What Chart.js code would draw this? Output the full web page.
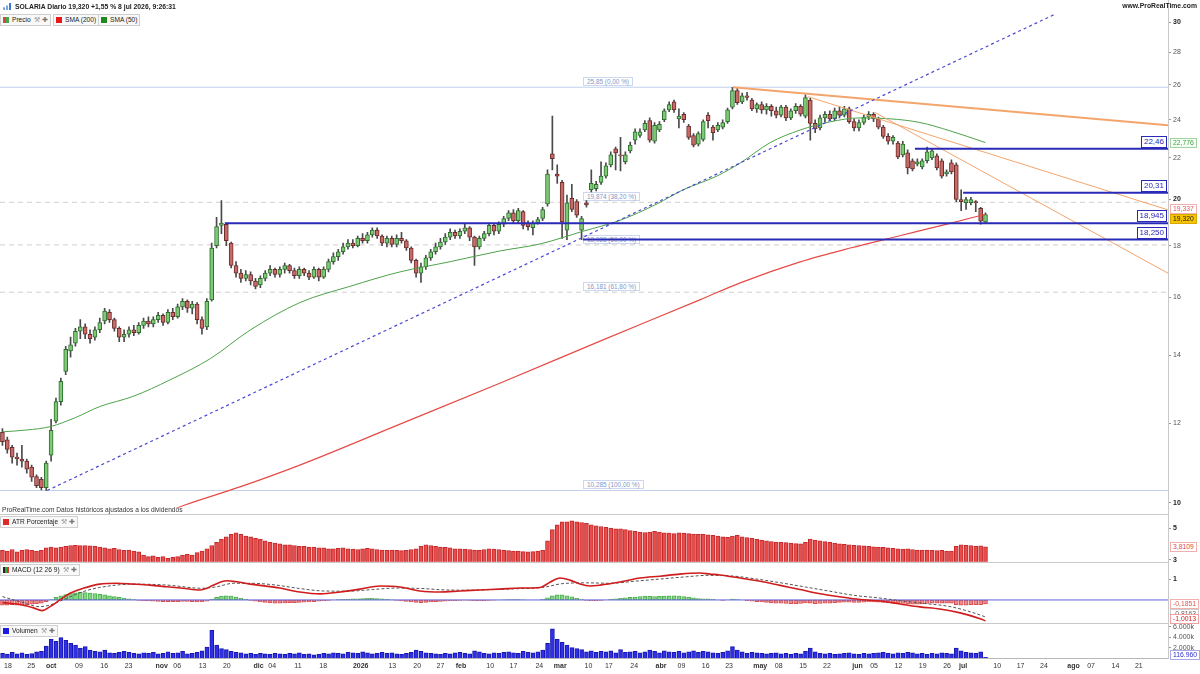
<!DOCTYPE html>
<html lang="es">
<head>
<meta charset="utf-8">
<title>SOLARIA Diario</title>
<script src="https://cdn.jsdelivr.net/npm/chart.js@4.4.1/dist/chart.umd.min.js"></script>
<style>
html,body{margin:0;padding:0;background:#fff;}
#wrap{position:relative;width:1200px;height:674px;overflow:hidden;font-family:"Liberation Sans",Arial,Helvetica,sans-serif;color:#222;background:#fff;}
#wrap canvas{position:absolute;left:0;z-index:1;}
.t{position:absolute;white-space:nowrap;line-height:1;z-index:2;}
.hdr{font-size:6.8px;font-weight:bold;color:#222;}
.box{position:absolute;z-index:2;white-space:nowrap;font-size:6.6px;line-height:8px;height:8px;border:1px solid #cfcfcf;background:#f8f8f8;padding:1px 2px;color:#222;}
.sq{display:inline-block;width:6px;height:6px;vertical-align:-1px;margin-right:3px;}
.ico{color:#9a9a9a;margin-left:3px;font-size:6.5px;}
.sep{position:absolute;z-index:2;left:0;width:1168px;height:1px;background:#c9c9c9;}
.vline{position:absolute;z-index:2;top:0;left:1168px;width:1px;height:658px;background:#c9c9c9;}
.lvl{position:absolute;z-index:2;white-space:nowrap;font-size:8px;line-height:10px;padding:0 2px;border:1px solid #2a2ab8;color:#2a2ab8;background:#fff;}
.fib{position:absolute;z-index:0;white-space:nowrap;font-size:6.4px;line-height:7px;padding:0 3px;border:1px solid #cdd8ee;color:#8596c4;background:#fff;}
.ax{position:absolute;z-index:2;white-space:nowrap;font-size:6.8px;line-height:8px;padding:0 2px;border:1px solid #ccc;background:#fff;}
</style>
</head>
<body>
<div id="wrap">
  <canvas id="cPrice" width="1200" height="514" style="top:0px"></canvas>
  <canvas id="cAtr" width="1200" height="59" style="top:509px"></canvas>
  <canvas id="cMacd" width="1200" height="72" style="top:557px"></canvas>
  <canvas id="cVol" width="1200" height="55" style="top:619px"></canvas>
  <div class="vline"></div>
  <div class="sep" style="top:514px"></div>
  <div class="sep" style="top:562px"></div>
  <div class="sep" style="top:623px"></div>

  <div class="t hdr" style="left:3px;top:3px;"><span style="display:inline-block;width:9px;height:7px;vertical-align:-1px;margin-right:3px;background:linear-gradient(90deg,#7aa7e0 0 2px,transparent 2px 3px,#7aa7e0 3px 5px,transparent 5px 6px,#3b78d0 6px 8px,transparent 8px);clip-path:polygon(0 60%,33% 60%,33% 35%,66% 35%,66% 0,100% 0,100% 100%,0 100%);"></span>SOLARIA Diario 19,320 +1,55 % 8 jul 2026, 9:26:31</div>
  <div class="t hdr" style="right:3px;top:3px;">www.ProRealTime.com</div>

  <div class="box" style="left:0px;top:14px;"><span class="sq" style="background:linear-gradient(90deg,#d04848 50%,#48a848 50%);"></span>Precio<span class="ico">⚒</span><span class="ico" style="margin-left:2px;color:#777;">✚</span></div>
  <div class="box" style="left:53px;top:14px;"><span class="sq" style="background:#e81818;"></span>SMA (200)</div>
  <div class="box" style="left:98px;top:14px;"><span class="sq" style="background:#1f8a1f;"></span>SMA (50)</div>

  <div class="t" style="left:2px;top:507px;font-size:6.6px;color:#333;">ProRealTime.com Datos históricos ajustados a los dividendos</div>
  <div class="box" style="left:0px;top:516px;"><span class="sq" style="background:#e02828;"></span>ATR Porcentaje<span class="ico">⚒</span><span class="ico" style="margin-left:2px;color:#777;">✚</span></div>
  <div class="box" style="left:0px;top:564px;"><span class="sq" style="background:linear-gradient(90deg,#222 33%,#3a3 33% 66%,#d33 66%);"></span>MACD (12 26 9)<span class="ico">⚒</span><span class="ico" style="margin-left:2px;color:#777;">✚</span></div>
  <div class="box" style="left:0px;top:625px;"><span class="sq" style="background:#1c1ce0;"></span>Volumen<span class="ico">⚒</span><span class="ico" style="margin-left:2px;color:#777;">✚</span></div>
</div>

<script>
// ---------------- DATA ----------------
const N_SLOTS = 240; // trading-day slots on the time axis (data + future space)

// x-axis tick labels (slot position, text)
const xTickPos = [1.1,5.9,10.0,15.7,20.9,25.9,32.7,35.9,41.1,46.1,52.6,55.4,60.7,65.9,73.6,80.1,85.2,90.0,94.2,100.2,105.0,110.3,114.6,120.4,124.6,129.8,135.3,139.5,144.5,149.3,155.7,159.5,164.5,169.4,175.7,179.1,184.1,189.1,194.1,197.4,204.4,209.2,214.0,220.1,223.7,228.7,233.5];
const xTickText = ['18','25','oct','09','16','23','nov','06','13','20','dic','04','11','18','2026','13','20','27','feb','10','17','24','mar','10','17','24','abr','09','16','23','may','08','15','22','jun','05','12','19','26','jul','10','17','24','ago','07','14','21'];

const priceTicks = [10,12,14,16,18,20,22,24,26,28,30];
const atrTicks = [3,5];
const macdTicks = [1];
const volTicks = [2000,4000,6000];

// daily candles (one per trading day, slot 0..202)
const opens = [
11.75,11.55,11.35,11.10,11.05,11.00,10.85,10.62,10.55,10.35,
11.15,12.05,12.60,13.50,14.15,14.40,14.80,14.95,14.70,14.60,
14.85,15.15,15.45,15.20,14.90,14.60,14.70,14.85,14.75,15.00,
15.15,15.05,15.20,15.35,15.10,15.45,15.30,15.65,15.85,15.60,
15.75,15.20,14.95,15.90,18.00,18.85,18.90,18.10,17.20,16.90,
16.70,16.85,16.60,16.45,16.70,16.90,17.05,16.85,17.05,17.20,
17.00,16.80,17.05,16.90,16.75,17.05,16.75,17.05,17.35,17.55,
17.75,17.95,18.10,18.00,18.30,18.20,18.45,18.65,18.40,18.10,
18.30,18.05,18.30,18.20,17.90,17.40,16.90,17.15,17.50,17.75,
17.95,18.15,18.35,18.55,18.40,18.60,18.75,18.35,17.95,18.30,
18.50,18.85,18.60,18.90,19.15,19.40,19.05,19.45,18.95,18.75,
18.95,19.15,19.80,22.20,21.20,20.80,18.65,20.05,19.90,18.65,
19.85,20.45,20.50,20.80,21.10,21.65,22.45,22.15,21.80,22.35,
22.90,23.15,23.45,23.95,22.85,23.45,24.00,24.55,25.00,24.05,
24.30,23.65,23.15,22.70,22.95,24.25,23.60,23.45,23.60,23.90,
24.70,25.65,25.00,25.35,25.10,24.60,24.85,24.55,24.75,24.50,
24.25,24.70,24.10,24.50,24.75,24.20,25.10,23.80,23.55,24.10,
24.30,24.05,24.50,24.25,24.60,23.90,23.55,23.85,24.15,24.30,
24.05,23.60,23.10,22.85,22.75,22.15,22.25,21.85,21.70,21.55,
21.85,22.00,22.10,21.85,21.20,21.75,21.65,20.00,19.85,19.85,
19.90,19.60,19.00];
const highs = [
11.85,11.62,11.40,11.20,11.40,11.05,10.90,10.66,10.60,11.00,
12.10,12.70,13.30,14.30,14.60,14.90,15.20,15.05,14.85,14.95,
15.25,15.60,15.55,15.25,14.95,14.85,14.95,15.00,15.10,15.25,
15.30,15.30,15.45,15.40,15.55,15.60,15.75,15.95,15.90,15.85,
15.80,15.30,15.95,18.10,19.20,19.95,18.95,18.15,17.35,17.05,
17.00,16.95,16.70,16.80,17.00,17.20,17.10,17.15,17.30,17.25,
17.10,17.15,17.10,17.00,17.15,17.10,17.15,17.45,17.70,17.85,
18.10,18.25,18.25,18.40,18.50,18.55,18.75,18.75,18.45,18.40,
18.40,18.45,18.55,18.25,17.95,17.45,17.30,17.60,17.85,18.10,
18.30,18.50,18.70,18.65,18.70,18.90,18.80,18.40,18.40,18.60,
18.95,18.90,19.00,19.25,19.50,19.55,19.60,19.50,19.05,19.05,
19.20,19.65,21.40,24.20,21.65,20.90,20.20,20.70,20.00,19.25,
19.95,21.40,20.85,21.80,21.75,22.30,22.55,23.05,22.30,22.80,
23.50,23.50,23.95,24.10,23.85,23.90,24.60,25.00,25.10,24.60,
24.40,23.75,23.25,23.35,24.00,24.40,23.70,23.85,24.00,24.65,
25.85,25.80,25.50,25.55,25.20,24.95,25.00,24.90,24.85,24.70,
24.80,24.80,24.60,24.90,24.85,25.40,25.20,24.00,24.25,24.45,
24.50,24.65,24.70,24.75,24.70,24.05,24.00,24.25,24.45,24.40,
24.15,23.70,23.25,23.15,22.85,22.85,22.40,21.95,21.95,21.95,
22.55,22.45,22.20,21.95,21.40,21.90,21.75,20.45,20.10,20.10,
19.95,19.65,19.40];
const lows = [
11.40,11.20,10.95,10.90,10.85,10.70,10.50,10.35,10.30,10.285,
11.00,12.00,12.50,13.40,13.95,14.30,14.55,14.55,14.40,14.50,
14.75,15.05,15.10,14.80,14.45,14.45,14.60,14.65,14.70,14.90,
14.95,14.95,15.10,15.00,15.05,15.20,15.25,15.55,15.45,15.40,
15.05,14.70,14.85,15.85,17.90,18.50,18.00,17.10,16.75,16.55,
16.60,16.45,16.30,16.35,16.60,16.80,16.75,16.75,16.90,16.90,
16.70,16.70,16.80,16.65,16.70,16.60,16.70,16.95,17.25,17.40,
17.65,17.85,17.90,17.95,18.10,18.10,18.35,18.30,18.00,17.95,
17.95,17.95,18.10,17.80,17.30,16.75,16.55,17.05,17.40,17.65,
17.85,18.05,18.25,18.30,18.30,18.50,18.20,17.20,17.85,18.20,
18.40,18.45,18.50,18.80,19.05,18.95,18.95,18.70,18.65,18.45,
18.90,19.05,19.70,21.40,20.75,18.30,18.25,19.45,19.20,18.25,
19.65,20.35,20.40,20.70,21.00,21.55,21.40,21.35,21.70,22.25,
22.70,23.05,23.35,22.80,22.75,23.35,23.90,24.45,24.40,23.55,
23.85,22.95,22.55,22.60,22.85,23.55,22.90,23.35,23.50,23.80,
24.60,24.85,24.90,25.10,24.50,24.40,24.35,24.30,24.20,24.10,
24.15,23.95,24.00,24.35,24.20,24.10,22.90,23.30,23.45,23.90,
23.95,23.95,24.10,24.15,23.80,23.40,23.40,23.75,24.00,23.90,
23.50,23.00,22.70,22.70,21.95,22.05,21.20,21.35,21.60,21.45,
21.75,21.90,21.40,21.00,21.10,21.20,19.90,19.50,19.55,19.75,
19.45,18.90,18.94];
const closes = [
11.50,11.30,11.10,11.06,11.00,10.80,10.60,10.40,10.35,10.95,
11.80,12.60,13.20,14.20,14.35,14.80,14.95,14.70,14.55,14.85,
15.10,15.50,15.20,14.90,14.60,14.70,14.85,14.75,15.00,15.15,
15.05,15.20,15.35,15.10,15.45,15.30,15.65,15.85,15.60,15.75,
15.20,14.90,15.85,17.90,18.80,18.95,18.20,17.20,16.90,16.70,
16.85,16.60,16.40,16.70,16.90,17.05,16.85,17.05,17.20,17.00,
16.80,17.05,16.90,16.75,17.05,16.75,17.05,17.35,17.55,17.75,
17.95,18.10,18.00,18.30,18.20,18.45,18.65,18.40,18.10,18.30,
18.05,18.30,18.20,17.90,17.40,16.90,17.15,17.50,17.75,17.95,
18.15,18.35,18.55,18.40,18.60,18.75,18.35,17.95,18.30,18.50,
18.85,18.60,18.90,19.15,19.40,19.05,19.50,18.85,18.80,18.95,
19.10,19.55,21.20,21.95,21.10,19.00,19.85,19.55,19.30,19.15,
19.75,20.75,20.70,21.10,21.60,22.15,22.25,22.10,22.15,22.65,
23.35,23.35,23.80,22.90,23.70,23.75,24.50,24.85,24.55,24.20,
24.00,23.05,22.65,23.25,23.90,23.95,23.30,23.70,23.85,24.55,
25.65,24.95,25.35,25.25,24.60,24.85,24.55,24.75,24.50,24.25,
24.70,24.10,24.50,24.75,24.30,25.25,23.80,23.50,24.10,24.30,
24.05,24.50,24.25,24.60,23.90,23.55,23.85,24.15,24.30,24.05,
23.60,23.10,22.85,23.05,22.05,22.70,21.50,21.45,21.80,21.85,
22.30,22.35,21.50,21.10,21.30,21.30,20.00,19.90,20.00,20.00,
19.85,19.03,19.32];

// moving averages (slot, value)
const sma200Slots = [34, 37.5, 48.8, 61.1, 81.7, 102.2, 122.8, 143.3, 151.6, 163.9, 174.2, 184.4, 194.7, 202];
const sma200Vals  = [9.80, 9.95, 10.37, 10.90, 11.97, 13.14, 14.47, 15.90, 16.53, 17.34, 17.90, 18.41, 18.94, 19.337];
const sma50Slots = [0, 5, 9.8, 15, 20, 26.8, 34.4, 42.7, 50.9, 61.1, 71.4, 81.7, 92, 102.2, 110.5, 119.3, 126.9, 134.5, 139.8, 146.8, 151.6, 157.7, 163.9, 170, 176.2, 182.4, 188.5, 194.7, 202];
const sma50Vals  = [11.76, 11.81, 11.90, 12.15, 12.46, 12.75, 13.24, 13.90, 14.84, 15.80, 16.40, 16.95, 17.35, 17.78, 18.07, 18.60, 19.07, 19.80, 20.44, 21.10, 21.74, 22.77, 23.44, 23.88, 24.10, 24.05, 23.85, 23.40, 22.776];

// drawn trend lines (start slot, end slot, start value, end value)
const trendFrom = [9.2, 150.1, 165.5, 179.3];
const trendTo   = [216.3, 239.5, 239.5, 239.5];
const trendV0   = [10.285, 25.85, 25.30, 24.40];
const trendV1   = [30.55, 23.70, 19.53, 16.90];

// horizontal support/resistance levels
const levelVals = [22.46, 20.31, 18.945, 18.25];
const levelFrom = [187.5, 197.4, 45.7, 119.3];
const levelDigits = [2, 2, 3, 3];

// Fibonacci retracement
const fibVals = [25.85, 19.874, 18.028, 16.181, 10.285];
const fibPct  = ['0,00', '38,20', '50,00', '61,80', '100,00'];

// ATR % (one per day)
const atr = [
3.60,3.55,3.65,3.50,3.60,3.65,3.60,3.55,3.60,3.75,
3.80,3.75,3.80,3.85,3.90,3.92,3.90,3.90,3.88,3.85,
3.80,3.75,3.70,3.72,3.65,3.60,3.62,3.55,3.50,3.30,
3.20,3.25,3.15,3.20,3.10,3.15,3.20,3.30,3.35,3.30,
3.45,3.55,3.70,3.90,4.10,4.30,4.45,4.60,4.70,4.60,
4.50,4.45,4.35,4.30,4.20,4.10,4.05,4.00,3.95,3.95,
3.90,3.85,3.85,3.80,3.80,3.75,3.75,3.70,3.70,3.72,
3.75,3.70,3.68,3.65,3.70,3.72,3.70,3.65,3.62,3.60,
3.62,3.60,3.58,3.60,3.65,3.70,3.85,3.95,3.90,3.85,
3.80,3.78,3.75,3.70,3.70,3.68,3.65,3.62,3.60,3.65,
3.70,3.68,3.65,3.60,3.58,3.55,3.55,3.52,3.50,3.52,
3.55,3.60,4.20,4.90,5.20,5.40,5.40,5.45,5.40,5.35,
5.30,5.20,5.15,5.10,5.05,5.00,4.95,4.95,4.90,4.85,
4.80,4.75,4.72,4.75,4.80,4.75,4.70,4.68,4.65,4.70,
4.68,4.65,4.62,4.60,4.62,4.58,4.55,4.50,4.45,4.42,
4.50,4.55,4.45,4.40,4.35,4.30,4.25,4.20,4.15,4.12,
4.10,4.08,4.05,4.02,4.00,4.10,4.30,4.25,4.20,4.15,
4.10,4.05,4.00,3.98,3.95,3.92,3.90,3.88,3.85,3.82,
3.80,3.78,3.75,3.72,3.70,3.68,3.70,3.65,3.62,3.60,
3.62,3.60,3.58,3.60,3.55,3.55,3.85,3.95,3.92,3.90,
3.85,3.88,3.8109];

// MACD (12 26 9)
const macdSlots = [0, 4.1, 6.4, 8.1, 9.8, 11.8, 13.9, 16.6, 20, 23.5, 26.8, 30.3, 33.8, 37.1, 40.6, 42, 43.3, 46.1, 48.2, 50.9, 52.9, 57, 61.1, 65.3, 69.4, 73.5, 77.6, 81.7, 85.8, 89.9, 94, 98.1, 102.2, 106.3, 110.5, 112.5, 114.6, 116.6, 118.7, 120.7, 122.8, 126.9, 131, 135.1, 139.2, 143.3, 145.4, 147.4, 151.6, 155.7, 159.8, 163.9, 168, 172.1, 176.2, 180.3, 184.4, 188.5, 192.6, 196.8, 200.9, 202];
const macdVals  = [-0.13, -0.24, -0.38, -0.51, -0.32, 0.00, 0.32, 0.56, 0.76, 0.80, 0.76, 0.71, 0.63, 0.56, 0.48, 0.56, 0.71, 0.92, 0.87, 0.76, 0.70, 0.57, 0.38, 0.29, 0.38, 0.52, 0.67, 0.62, 0.43, 0.38, 0.43, 0.48, 0.52, 0.57, 0.60, 0.85, 1.05, 0.95, 0.76, 0.67, 0.71, 0.86, 1.05, 1.14, 1.24, 1.29, 1.24, 1.20, 1.05, 0.90, 0.70, 0.50, 0.30, 0.15, 0.02, -0.05, -0.19, -0.33, -0.43, -0.62, -0.90, -1.0013];
const signalSlots = [0, 3.6, 7.7, 9.8, 13.2, 16.6, 20, 27, 34, 41, 44, 47.5, 51, 56, 61, 66, 71, 76, 81, 86, 91, 96, 101, 106, 111, 115, 120, 125, 130, 135, 140, 145, 150, 155, 160, 165, 170, 175, 180, 185, 190, 195, 200, 202];
const signalVals  = [0.16, -0.08, -0.32, -0.24, 0.08, 0.40, 0.60, 0.76, 0.71, 0.56, 0.63, 0.80, 0.80, 0.72, 0.55, 0.43, 0.42, 0.50, 0.57, 0.55, 0.48, 0.47, 0.50, 0.54, 0.60, 0.78, 0.82, 0.80, 0.90, 1.00, 1.10, 1.18, 1.15, 1.00, 0.82, 0.62, 0.42, 0.22, 0.10, -0.05, -0.18, -0.33, -0.65, -0.8163];
const macdHist = [
-0.25,-0.25,-0.22,-0.25,-0.25,-0.22,-0.20,-0.18,-0.15,-0.08,
0.02,0.12,0.20,0.26,0.30,0.34,0.36,0.35,0.33,0.30,
0.27,0.24,0.20,0.16,0.12,0.08,0.05,0.02,-0.02,-0.04,
-0.05,-0.06,-0.07,-0.08,-0.08,-0.08,-0.08,-0.07,-0.07,-0.08,
-0.10,-0.10,-0.06,0.04,0.12,0.18,0.20,0.18,0.14,0.08,
0.03,-0.02,-0.06,-0.10,-0.12,-0.14,-0.15,-0.15,-0.14,-0.13,
-0.13,-0.12,-0.11,-0.10,-0.08,-0.06,-0.04,-0.02,0.00,0.02,
0.03,0.04,0.05,0.06,0.07,0.08,0.08,0.07,0.05,0.03,
0.01,-0.02,-0.05,-0.07,-0.09,-0.12,-0.13,-0.12,-0.10,-0.08,
-0.07,-0.06,-0.04,-0.03,-0.02,-0.01,-0.02,-0.04,-0.04,-0.03,
-0.02,-0.01,0.00,0.01,0.02,0.02,0.02,0.01,0.00,0.00,
0.00,0.03,0.10,0.20,0.25,0.24,0.20,0.15,0.08,0.02,
-0.02,-0.04,-0.04,-0.02,0.00,0.03,0.06,0.08,0.10,0.12,
0.14,0.16,0.18,0.17,0.16,0.17,0.18,0.20,0.20,0.18,
0.16,0.14,0.10,0.07,0.06,0.05,0.03,0.00,-0.02,0.00,
0.04,0.02,0.00,-0.03,-0.06,-0.08,-0.10,-0.12,-0.14,-0.15,
-0.16,-0.17,-0.18,-0.18,-0.17,-0.14,-0.16,-0.18,-0.17,-0.16,
-0.15,-0.13,-0.12,-0.11,-0.11,-0.12,-0.12,-0.11,-0.10,-0.10,
-0.11,-0.12,-0.14,-0.15,-0.17,-0.17,-0.19,-0.20,-0.20,-0.19,
-0.17,-0.15,-0.15,-0.16,-0.16,-0.16,-0.22,-0.25,-0.25,-0.23,
-0.22,-0.22,-0.1851];

// Volume (thousands of shares)
const volume = [
900,750,1100,800,1000,700,850,1200,1300,2300,
3600,3200,3900,3400,2800,2500,1900,2200,1500,1300,
1200,1500,1000,900,1100,1300,1100,900,800,1000,
900,1100,800,900,1200,900,1000,1300,800,900,
1100,1400,2100,5300,2500,1800,1600,1300,1100,1000,
800,900,700,900,800,700,900,800,700,900,
800,1000,700,800,600,700,900,800,1000,900,
800,1100,1000,900,1200,1000,800,900,1100,900,
1000,800,700,900,1100,1500,1300,1000,900,800,
700,900,800,1000,1100,900,800,1400,1200,900,
800,1000,900,1100,1200,1000,900,1300,1100,1000,
1200,1500,2800,5600,3600,3000,2500,2000,1800,1600,
1200,1400,1100,1300,1200,1400,1000,1600,1100,1200,
1300,1000,1200,1500,1300,1000,1400,1200,1100,1300,
1000,1200,1400,1100,1300,1200,1000,900,1100,1400,
2200,1500,1200,900,1100,1000,900,800,900,1000,
800,900,700,900,800,1300,1900,1200,900,800,
900,700,800,900,1000,800,700,900,800,900,
1000,1100,900,800,1000,900,1100,1000,800,900,
700,900,800,1000,900,800,1900,1400,1100,1000,
900,1200,116.96];

// ---------------- CHARTS ----------------
const FONT = '"Liberation Sans", Arial, Helvetica, sans-serif';
Chart.defaults.font.family = FONT;
Chart.defaults.font.size = 7;
Chart.defaults.color = '#333';

const PRICE_MIN = 9.886, PRICE_MAX = 30.7;
const ATR_MIN = 2.875, ATR_MAX = 5.8125;
const MACD_MIN = -1.095, MACD_MAX = 1.762;
const VOL_MIN = 0, VOL_MAX = 6300;

const isBoldX = i => (i >= 0 && i < xTickText.length) && (/^[a-z]/.test(xTickText[i]) || xTickText[i].length === 4);
const comma = (v, d) => (d === undefined ? String(v) : v.toFixed(d)).replace('.', ',');
const tickVal = c => (c && c.tick ? c.tick.value : NaN);

function xAxis(show) {
  return {
    type: 'linear', min: -0.5, max: N_SLOTS - 0.5, display: show, offset: false,
    grid: { display: false, drawTicks: false, offset: false },
    border: { display: show, color: '#b8b8b8' },
    afterBuildTicks: s => { s.ticks = xTickPos.map(v => ({ value: v })); },
    afterFit: s => { if (show) s.height = 16; },
    ticks: {
      autoSkip: false, maxRotation: 0, minRotation: 0, padding: 4, color: '#333',
      font: c => ({ family: FONT, size: 7, weight: isBoldX(c ? c.index : -1) ? 'bold' : 'normal' }),
      callback: (v, i) => xTickText[i]
    }
  };
}
function yAxis(type, min, max, ticks, fmt, boldFn) {
  return {
    type, position: 'right', min, max,
    afterFit: s => { s.width = 32; },
    afterBuildTicks: s => { s.ticks = ticks.map(v => ({ value: v })); },
    grid: { drawOnChartArea: false, drawTicks: true, tickLength: 3, color: '#9a9a9a' },
    border: { display: true, color: '#c4c4c4' },
    ticks: {
      autoSkip: false, padding: 2,
      color: c => (boldFn(tickVal(c)) ? '#222' : '#555'),
      font: c => ({ family: FONT, size: 7, weight: boldFn(tickVal(c)) ? 'bold' : 'normal' }),
      callback: v => fmt(v)
    }
  };
}
function base(padTop, padBottom) {
  return {
    responsive: false, animation: false, events: [],
    layout: { padding: { top: padTop, bottom: padBottom, left: 0, right: 0 }, autoPadding: false },
    plugins: { legend: { display: false }, tooltip: { enabled: false } }
  };
}
function lineDs(pts, color, width, dash, order, smooth) {
  return { type: 'line', data: pts, borderColor: color, borderWidth: width, borderDash: dash || [],
    pointRadius: 0, fill: false, order, cubicInterpolationMode: smooth ? 'monotone' : 'default', tension: 0 };
}
const pairs = (xs, ys) => xs.map((x, i) => ({ x, y: ys[i] }));
const slots = opens.map((_, i) => i);
const up = slots.map(i => closes[i] >= opens[i]);

// ---- price ----
const priceDatasets = [
  { type: 'bar', data: slots.map(i => ({ x: i, y: [lows[i], highs[i]] })), backgroundColor: '#4a4a4a',
    barThickness: 1, grouped: false, order: 9 },
  { type: 'bar', data: slots.map(i => ({ x: i, y: [opens[i], closes[i]] })),
    backgroundColor: slots.map(i => up[i] ? '#7ccb74' : '#c56b68'),
    borderColor: slots.map(i => up[i] ? '#2f6e2f' : '#6e2a2a'),
    borderWidth: 1, borderSkipped: false, barThickness: 4, grouped: false, order: 8 },
  lineDs(pairs(sma200Slots, sma200Vals), '#e54c48', 1.2, [], 5, true),
  lineDs(pairs(sma50Slots, sma50Vals), '#4ea24a', 1, [], 5, true)
];
fibVals.forEach((v, k) => {
  const solid = (k === 0 || k === fibVals.length - 1);
  priceDatasets.push(lineDs([{ x: -0.5, y: v }, { x: N_SLOTS - 0.5, y: v }],
    solid ? '#c2d0ec' : '#cfcfcf', 1, solid ? [] : [5, 4], 10, false));
});
trendFrom.forEach((s, k) => {
  const dotted = k === 0, thick = k === 1;
  priceDatasets.push(lineDs([{ x: s, y: trendV0[k] }, { x: trendTo[k], y: trendV1[k] }],
    dotted ? '#4a4ad4' : '#f3a56c', dotted ? 1.2 : (thick ? 1.8 : 1), dotted ? [3, 3] : [], 4, false));
});
levelVals.forEach((v, k) => {
  priceDatasets.push(lineDs([{ x: levelFrom[k], y: v }, { x: N_SLOTS - 0.5, y: v }], '#2a2ab8', 2, [], 2, false));
});

const priceChart = new Chart(document.getElementById('cPrice'), {
  type: 'bar',
  data: { datasets: priceDatasets },
  options: Object.assign(base(12, 6), {
    scales: {
      x: xAxis(false),
      y: yAxis('logarithmic', PRICE_MIN, PRICE_MAX, priceTicks, v => String(v), v => v % 10 === 0)
    }
  })
});

// ---- ATR ----
const atrChart = new Chart(document.getElementById('cAtr'), {
  type: 'bar',
  data: { datasets: [{ data: slots.map(i => ({ x: i, y: atr[i] })), backgroundColor: '#e84c4c',
    borderColor: '#c42a2a', borderWidth: 1, borderSkipped: 'bottom', barThickness: 4 }] },
  options: Object.assign(base(6, 6), {
    scales: { x: xAxis(false), y: yAxis('linear', ATR_MIN, ATR_MAX, atrTicks, v => String(v), () => true) }
  })
});

// ---- MACD ----
const macdChart = new Chart(document.getElementById('cMacd'), {
  type: 'bar',
  data: { datasets: [
    { type: 'bar', data: slots.map(i => ({ x: i, y: macdHist[i] })),
      backgroundColor: slots.map(i => macdHist[i] >= 0 ? '#86d686' : '#ef8a8a'),
      borderColor: slots.map(i => macdHist[i] >= 0 ? '#4caf50' : '#d65050'),
      borderWidth: 1, borderSkipped: false, barThickness: 4, order: 5 },
    lineDs([{ x: -0.5, y: 0 }, { x: N_SLOTS - 0.5, y: 0 }], '#6262dc', 1, [], 4, false),
    lineDs(pairs(signalSlots, signalVals), '#555555', 1, [3, 2], 3, true),
    lineDs(pairs(macdSlots, macdVals), '#d01c1c', 1.6, [], 2, true)
  ] },
  options: Object.assign(base(6, 6), {
    scales: { x: xAxis(false), y: yAxis('linear', MACD_MIN, MACD_MAX, macdTicks, v => String(v), () => true) }
  })
});

// ---- Volume ----
const volChart = new Chart(document.getElementById('cVol'), {
  type: 'bar',
  data: { datasets: [{ data: slots.map(i => ({ x: i, y: volume[i] })), backgroundColor: '#2f2fe6',
    borderColor: '#1818b0', borderWidth: 1, borderSkipped: 'bottom', barThickness: 4 }] },
  options: Object.assign(base(6, 0), {
    scales: {
      x: xAxis(true),
      y: yAxis('linear', VOL_MIN, VOL_MAX, volTicks, v => (v / 1000).toFixed(3) + 'k', () => false)
    }
  })
});

// ---------------- VALUE TAGS & LABELS ----------------
const wrap = document.getElementById('wrap');
function put(text, cls, style) {
  const d = document.createElement('div');
  d.className = cls; d.textContent = text;
  Object.assign(d.style, style);
  wrap.appendChild(d);
  return d;
}
const pY = v => priceChart.scales.y.getPixelForValue(v);
const pX = s => priceChart.scales.x.getPixelForValue(s);
const RIGHT = priceChart.chartArea.right;

levelVals.forEach((v, k) => {
  put(comma(v, levelDigits[k]), 'lvl', { right: (1200 - RIGHT + 1) + 'px', top: (pY(v) - 13) + 'px' });
});
// Fibonacci labels sit beneath the transparent price canvas, so lines pass over them
fibVals.forEach((v, k) => {
  put(comma(v) + ' (' + fibPct[k] + ' %)', 'fib', { left: pX(119.3) + 'px', top: (pY(v) - 10) + 'px' });
});
const axTag = (txt, topPx, css) => put(txt, 'ax', Object.assign({ left: (RIGHT + 2) + 'px', top: topPx + 'px' }, css));
axTag(comma(sma50Vals[sma50Vals.length - 1], 3), pY(sma50Vals[sma50Vals.length - 1]) - 5,
  { color: '#3f9a3f', borderColor: '#9fd39f', background: '#f6fff6' });
axTag(comma(sma200Vals[sma200Vals.length - 1], 3), pY(sma200Vals[sma200Vals.length - 1]) - 10,
  { color: '#e05555', borderColor: '#f0b0b0' });
axTag(comma(closes[closes.length - 1], 3), pY(closes[closes.length - 1]) - 1,
  { color: '#222', borderColor: '#d9a800', background: '#f6c400' });

const atrTop = 509, macdTop = 557, volTop = 619;
axTag(comma(atr[atr.length - 1], 4), atrTop + atrChart.scales.y.getPixelForValue(atr[atr.length - 1]) - 5,
  { color: '#e04848', borderColor: '#f0b0b0' });
axTag(comma(signalVals[signalVals.length - 1], 4), macdTop + macdChart.scales.y.getPixelForValue(signalVals[signalVals.length - 1]) - 8,
  { color: '#666', borderColor: '#ccc' });
axTag(comma(macdHist[macdHist.length - 1], 4), macdTop + macdChart.scales.y.getPixelForValue(macdHist[macdHist.length - 1]) - 5,
  { color: '#e05555', borderColor: '#f0b0b0' });
axTag(comma(macdVals[macdVals.length - 1], 4), macdTop + macdChart.scales.y.getPixelForValue(macdVals[macdVals.length - 1]) - 7,
  { color: '#d02020', borderColor: '#f0a0a0' });
const lastVol = volume[volume.length - 1];
axTag(Math.round(lastVol * 1000).toLocaleString('de-DE'), volTop + volChart.scales.y.getPixelForValue(lastVol) - 7,
  { color: '#2f2fd0', borderColor: '#a8a8e8' });
</script>
</body>
</html>
